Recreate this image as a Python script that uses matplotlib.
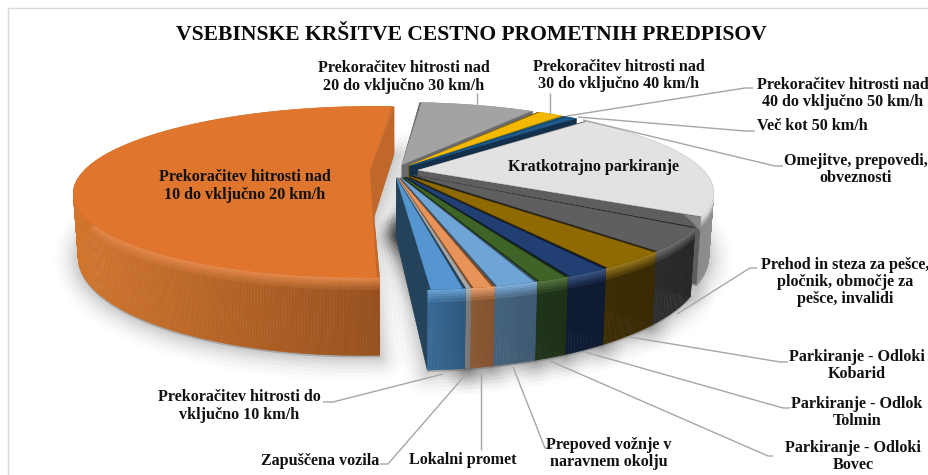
import numpy as np
import matplotlib
matplotlib.use("Agg")
import matplotlib.pyplot as plt
from matplotlib.collections import PolyCollection
from matplotlib.patches import Polygon

# ---------- data ----------
categories = [
    "Prekoračitev hitrosti do\nvključno 10 km/h",
    "Prekoračitev hitrosti nad\n10 do vključno 20 km/h",
    "Prekoračitev hitrosti nad\n20 do vključno 30 km/h",
    "Prekoračitev hitrosti nad\n30 do vključno 40 km/h",
    "Prekoračitev hitrosti nad\n40 do vključno 50 km/h",
    "Več kot 50 km/h",
    "Omejitve, prepovedi,\nobveznosti",
    "Kratkotrajno parkiranje",
    "Prehod in steza za pešce,\npločnik, območje za\npešce, invalidi",
    "Parkiranje - Odloki\nKobarid",
    "Parkiranje - Odlok\nTolmin",
    "Parkiranje - Odloki\nBovec",
    "Prepoved vožnje v\nnaravnem okolju",
    "Lokalni promet",
    "Zapuščena vozila",
]
shares = [1.56, 52.11, 8.17, 1.89, 0.08, 0.06, 0.81, 21.22, 4.19, 3.31, 2.03, 1.47, 1.89, 1.00, 0.22]
title = "VSEBINSKE KRŠITVE CESTNO PROMETNIH PREDPISOV"

# ---------- styles ----------
top_colors = ["#5596D0", "#E0752E", "#A3A3A3", "#F5B800", "#5E9E3E", "#2E6CA8", "#1F5A8C", "#E2E2E2",
              "#5F5F5F", "#8F6A00", "#213F73", "#3F6428", "#6FA4D6", "#E8935A", "#A8A8A8"]
wall_left = ["#3A6C98", "#D2752C", "#6A6A6A", "#8A6A00", "#30501E", "#163A5C", "#123450", "#666666",
             "#2C2C2C", "#3C2D05", "#0E1C34", "#20341A", "#46647E", "#8C5A35", "#808080"]
wall_right = ["#30597F", "#944F1E", "#6A6A6A", "#8A6A00", "#30501E", "#163A5C", "#123450", "#8E8E8E",
              "#2A2A2A", "#3A2B05", "#0E1B32", "#1F3218", "#3F5A72", "#85532F", "#787878"]
cut_colors = ["#244259", "#C0682C", "#6A6A6A", "#7A5C00", "#30501E", "#163A5C", "#12304C", "#5E5E5E",
              "#222222", "#33270A", "#0B172B", "#1A2B14", "#3A5266", "#7A4C2A", "#707070"]

# pie projection
CX, CY = 394.0, 171.0
RX, RY = 286.0, 80.5
K = 0.245
EXPLODE = 0.085
THICK = 59.0
START = 171.7  # clockwise from back, degrees
FRONT_GROUP = {8, 9, 10, 11, 12, 13, 14, 0}
FRONT_RIM = (0.04, -0.085)
GAP = 0.45


def project(u, v):
    w = 1 + K * v
    return CX + RX * u / w, CY - RY * v / w


def drop(sx, v_arr):
    w = 1 + K * np.asarray(v_arr)
    return CX + (sx - CX) * 0.985, THICK / w


def mix(a, b, t):
    a, b = np.array(matplotlib.colors.to_rgb(a)), np.array(matplotlib.colors.to_rgb(b))
    return tuple(a + (b - a) * t)


fig = plt.figure(figsize=(9.29, 4.75), dpi=100, facecolor="white")
ax = fig.add_axes([0, 0, 1, 1])
ax.set_xlim(0, 929)
ax.set_ylim(475, 0)
ax.axis("off")

ax.plot([8.5, 8.5, 929], [475, 7.5, 7.5], color="#D9D9D9", lw=1.0, zorder=1)

degrees = np.array(shares) / np.sum(shares) * 360
edges = START + np.concatenate([[0], np.cumsum(degrees)])
slices = []
for i, d in enumerate(degrees):
    a0, a1 = np.radians(edges[i]), np.radians(edges[i + 1])
    mid = (a0 + a1) / 2
    eu, ev = EXPLODE * np.sin(mid), EXPLODE * np.cos(mid)
    ru, rv = FRONT_RIM if i in FRONT_GROUP else (eu, ev)
    t = np.linspace(a0, a1, max(int(d * 2), 3))
    g = np.radians(min(GAP, d * 0.12))
    ti = np.linspace(a0 + g, a1 - g, max(int(d * 2), 3))
    slices.append(dict(i=i, eu=eu, ev=ev, t=t, u=ru + np.sin(t), v=rv + np.cos(t),
                       ui=ru + np.sin(ti), vi=rv + np.cos(ti), depth=np.cos(mid)))

# soft shadow below the solid
for s in slices:
    sx, sy = project(s["u"], s["v"])
    ax0, ay0 = project(s["eu"], s["ev"])
    bx, dy = drop(sx, s["v"])
    px = np.concatenate([[ax0], bx])
    py = np.concatenate([[ay0 + THICK], sy + dy + 2])
    for lw, al in zip([34, 28, 22, 17, 12, 8, 4], [0.012, 0.018, 0.022, 0.026, 0.03, 0.035, 0.04]):
        ax.add_patch(Polygon(np.c_[px, py], closed=True, facecolor=(0, 0, 0, al),
                             edgecolor=(0, 0, 0, al), lw=lw, joinstyle="round", zorder=2))

layers = [0.0, 0.03, 0.06, 0.09, 0.12, 0.16, 1.0]
order = sorted(slices, key=lambda s: -s["depth"])
z = 3
for s in order:
    i = s["i"]
    sx, sy = project(s["u"], s["v"])
    ax0, ay0 = project(s["eu"], s["ev"])
    w0 = 1 + K * s["ev"]
    bx, dy = drop(sx, s["v"])
    # cut faces
    for j in (0, -1):
        apex_bx = CX + (ax0 - CX) * 0.985
        poly = [(ax0, ay0), (sx[j], sy[j]), (bx[j], sy[j] + dy[j]), (apex_bx, ay0 + THICK / w0)]
        ax.add_patch(Polygon(poly, closed=True, facecolor=cut_colors[i], edgecolor=cut_colors[i],
                             lw=0.4, zorder=z))
    z += 1
    # rim wall with a bevel band, only on the part that can face the viewer
    xmin, xmax = sx.min(), sx.max()
    quads, cols = [], []
    for k in range(len(sx) - 1):
        if np.cos((s["t"][k] + s["t"][k + 1]) / 2) > 0.3:
            continue
        tx = (sx[k] - xmin) / max(xmax - xmin, 1e-6)
        wall = mix(wall_left[i], wall_right[i], tx)
        for l in range(len(layers) - 1):
            f0, f1 = layers[l], layers[l + 1]
            xa0 = sx[k] + (bx[k] - sx[k]) * f0
            xa1 = sx[k + 1] + (bx[k + 1] - sx[k + 1]) * f0
            xb0 = sx[k] + (bx[k] - sx[k]) * f1
            xb1 = sx[k + 1] + (bx[k + 1] - sx[k + 1]) * f1
            quads.append([(xa0, sy[k] + dy[k] * f0), (xa1, sy[k + 1] + dy[k + 1] * f0),
                          (xb1, sy[k + 1] + dy[k + 1] * f1), (xb0, sy[k] + dy[k] * f1)])
            if l < len(layers) - 2:
                bright = mix(top_colors[i], "#FFFFFF", 0.12)
                cols.append(mix(bright, wall, f0 / layers[-2]))
            else:
                cols.append(wall)
    if quads:
        ax.add_collection(PolyCollection(quads, facecolors=cols, edgecolors=cols,
                                         linewidths=0.3, zorder=z))
    z += 1
    # dark backing, then top face set in slightly from the cuts
    px = np.concatenate([[ax0], sx])
    py = np.concatenate([[ay0], sy])
    ax.add_patch(Polygon(np.c_[px, py], closed=True, facecolor=cut_colors[i],
                         edgecolor="none", zorder=z))
    z += 1
    ix, iy = project(s["ui"], s["vi"])
    px = np.concatenate([[ax0], ix])
    py = np.concatenate([[ay0], iy])
    ax.add_patch(Polygon(np.c_[px, py], closed=True, facecolor=top_colors[i],
                         edgecolor=top_colors[i], lw=0.3, zorder=z))
    z += 1

# leader lines
leaders = {
    0: [(323, 402), (333, 402), (443, 374)],
    2: [(477, 93), (477, 105)],
    3: [(550, 93), (550, 114)],
    4: [(753, 88), (745, 88), (567, 116)],
    5: [(755, 131), (745, 131), (578, 117)],
    6: [(783, 166), (775, 166), (583, 120)],
    8: [(757, 268), (750, 268), (677, 314)],
    9: [(788, 362), (780, 362), (630, 337)],
    10: [(790, 408), (783, 408), (585, 352)],
    11: [(773, 456), (768, 456), (548, 360)],
    12: [(553, 448), (545, 448), (513, 367)],
    13: [(481, 450), (481, 372)],
    14: [(380, 464), (388, 464), (467, 373)],
}
for key, pts in leaders.items():
    xs, ys = zip(*pts)
    ax.plot(xs, ys, color="#A6A6A6", lw=1.0, zorder=500, solid_capstyle="butt")

# labels
label_pos = {
    0: (239, 406), 1: (245, 186), 2: (404, 77), 3: (619, 75.5), 4: (843, 93.5), 5: (812, 126),
    6: (856, 169.5), 7: (594, 167), 8: (845, 282), 9: (857, 365.5), 10: (857, 412.5),
    11: (853, 456.5), 12: (609, 453.5), 13: (463, 460), 14: (320, 461),
}
FONT = "Liberation Serif"
for i, (x, y) in label_pos.items():
    ax.text(x, y, categories[i], ha="center", va="center", family=FONT, weight="bold",
            fontsize=11.6, color="#111111", linespacing=1.09, zorder=600)
ax.text(471, 34.5, title, ha="center", va="center", family=FONT, weight="bold",
        fontsize=15.6, color="#0A0A0A", zorder=600)

fig.savefig("out.png", dpi=100, facecolor="white")
